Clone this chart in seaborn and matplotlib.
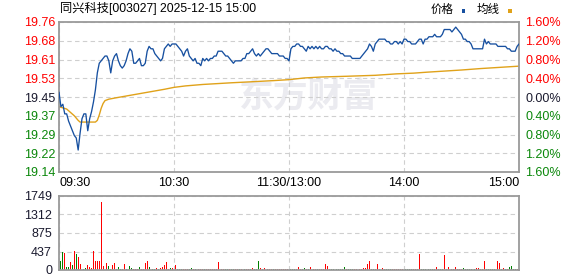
import numpy as np
import pandas as pd
import matplotlib
matplotlib.use("Agg")
import matplotlib.pyplot as plt
from matplotlib.patches import Rectangle
import seaborn as sns

# ---------------- data ----------------
title = "同兴科技[003027] 2025-12-15 15:00"
prev_close = 19.45

price = [
    19.47, 19.41, 19.42, 19.38, 19.38, 19.35, 19.33, 19.31, 19.29, 19.28,
    19.23, 19.30, 19.36, 19.38, 19.38, 19.31, 19.36, 19.39, 19.43, 19.48,
    19.55, 19.59, 19.60, 19.61, 19.62, 19.62, 19.60, 19.55, 19.60, 19.62,
    19.63, 19.60, 19.58, 19.57, 19.58, 19.60, 19.63, 19.65, 19.64, 19.59,
    19.59, 19.60, 19.61, 19.58, 19.58, 19.59, 19.64, 19.66, 19.65, 19.65,
    19.63, 19.62, 19.61, 19.60, 19.61, 19.65, 19.66, 19.67, 19.66, 19.67,
    19.67, 19.67, 19.66, 19.65, 19.64, 19.62, 19.64, 19.65, 19.62, 19.61,
    19.60, 19.61, 19.59, 19.59, 19.58, 19.61, 19.60, 19.61, 19.60, 19.61,
    19.61, 19.62, 19.62, 19.64, 19.64, 19.64, 19.63, 19.62, 19.62, 19.61,
    19.60, 19.59, 19.60, 19.60, 19.60, 19.60, 19.61, 19.61, 19.63, 19.63,
    19.64, 19.65, 19.63, 19.62, 19.63, 19.62, 19.63, 19.64, 19.65, 19.65,
    19.64, 19.63, 19.63, 19.63, 19.63, 19.62, 19.62, 19.62, 19.61, 19.61,
    19.60, 19.65, 19.66, 19.66, 19.67, 19.67, 19.66, 19.66, 19.65, 19.64,
    19.66, 19.65, 19.66, 19.65, 19.66, 19.65, 19.66, 19.65, 19.65, 19.66,
    19.66, 19.65, 19.65, 19.64, 19.65, 19.64, 19.64, 19.63, 19.63, 19.62,
    19.62, 19.62, 19.62, 19.61, 19.61, 19.61, 19.61, 19.61, 19.62, 19.63,
    19.64, 19.65, 19.67, 19.66, 19.64, 19.67, 19.68, 19.69, 19.69, 19.69,
    19.69, 19.68, 19.68, 19.67, 19.67, 19.68, 19.68, 19.67, 19.68, 19.67,
    19.69, 19.69, 19.68, 19.68, 19.67, 19.67, 19.67, 19.68, 19.69, 19.69,
    19.67, 19.69, 19.69, 19.70, 19.70, 19.70, 19.71, 19.70, 19.70, 19.70,
    19.71, 19.73, 19.73, 19.73, 19.73, 19.72, 19.73, 19.74, 19.73, 19.72,
    19.71, 19.69, 19.69, 19.68, 19.68, 19.67, 19.65, 19.65, 19.65, 19.65,
    19.65, 19.65, 19.69, 19.67, 19.68, 19.67, 19.67, 19.67, 19.67, 19.66,
    19.66, 19.66, 19.66, 19.66, 19.65, 19.65, 19.64, 19.64, 19.64, 19.66,
    19.67,
]

avg_minute = [0, 2, 4, 6, 8, 10, 11, 19, 20, 21, 22, 23, 24, 26, 30, 35, 40,
              45, 50, 55, 60, 66, 75, 90, 100, 112, 120, 128, 137, 150, 165,
              176, 185, 192, 200, 210, 220, 230, 240]
avg_price = [19.410, 19.405, 19.400, 19.386, 19.372, 19.353, 19.346, 19.346,
             19.353, 19.375, 19.403, 19.423, 19.435, 19.441, 19.447, 19.454,
             19.461, 19.468, 19.475, 19.482, 19.490, 19.496, 19.502, 19.509,
             19.513, 19.518, 19.522, 19.529, 19.533, 19.536, 19.540, 19.546,
             19.549, 19.553, 19.557, 19.562, 19.568, 19.573, 19.578]

volume = [
    764, 221, 426, 402, 71, 71, 189, 118, 449, 378,
    307, 142, 142, 32, 50, 118, 71, 50, 449, 213,
    213, 213, 1608, 95, 496, 165, 95, 24, 118, 165,
    24, 71, 24, 24, 142, 24, 71, 95, 50, 24,
    24, 24, 79, 24, 24, 165, 221, 63, 39, 24,
    24, 39, 24, 39, 79, 118, 197, 24, 55, 39,
    110, 118, 24, 24, 24, 24, 24, 24, 24, 50,
    24, 24, 71, 24, 24, 24, 24, 24, 24, 24,
    24, 24, 24, 189, 24, 24, 24, 24, 24, 24,
    24, 24, 24, 24, 24, 24, 24, 24, 24, 24,
    24, 50, 24, 24, 221, 50, 24, 50, 50, 24,
    24, 24, 24, 24, 24, 24, 24, 24, 24, 24,
    189, 24, 24, 24, 24, 71, 24, 24, 39, 24,
    24, 71, 24, 24, 24, 24, 24, 24, 24, 142,
    95, 24, 24, 24, 24, 24, 24, 24, 24, 71,
    24, 24, 24, 24, 24, 24, 24, 24, 24, 50,
    50, 142, 213, 24, 24, 24, 142, 24, 95, 50,
    24, 24, 24, 24, 24, 24, 24, 24, 24, 24,
    142, 24, 24, 24, 24, 24, 24, 24, 378, 24,
    24, 24, 24, 24, 24, 24, 24, 71, 24, 24,
    24, 355, 24, 71, 24, 24, 24, 71, 24, 24,
    24, 50, 24, 24, 24, 24, 24, 24, 50, 50,
    24, 24, 213, 24, 24, 24, 24, 24, 24, 213,
    165, 24, 50, 24, 24, 71, 95, 24, 24, 24,
    189,
]

direction = (
    "RGGRGGRGRG" "RRRGGRRRRR" "RRRRGRGGRR" "GGGRRGGGGR" "RRGRRRRGGG"
    "GRGRRRRRGR" "RRGGGRRRGG" "RGRRRRGRRR" "RRRRRRRGGR" "GGRRGRRGRR"
    "GRGGGRRRRR" "RRGRRRRRRR" "RGGGRRRGGR" "GRRRRGRRRR" "RRGGGGGGGG"
    "RGGGRRRRRR" "RRRGGRRRRR" "RGGGRRRRRR" "RGGGGRRRRG" "GGGGGGRRRG"
    "GRRRRRRRRR" "RGGGGGGGRR" "RRRGGGGGRR" "RGRGRGGGGR" "R"
)

time_labels = ["09:30", "10:30", "11:30/13:00", "14:00", "15:00"]
price_labels = ["19.14", "19.22", "19.29", "19.37", "19.45",
                "19.53", "19.61", "19.68", "19.76"]
pct_labels = ["1.60%", "1.20%", "0.80%", "0.40%", "0.00%",
              "0.40%", "0.80%", "1.20%", "1.60%"]
vol_ticks = [0, 437, 875, 1312, 1749]
legend_names = ["价格", "均线"]

# ---------------- style ----------------
sns.set_theme(style="white")
plt.rcParams["font.family"] = ["Liberation Sans", "Noto Sans CJK SC", "DejaVu Sans"]

RED = "#ff0000"
GREEN = "#0a870a"
DARK = "#1a1a2e"
BLUE = "#1750a0"
GOLD = "#e0a21a"
GRID = "#cfcfcf"
FRAME = "#9a9a9a"

n = len(price)
minute = np.arange(n)
df = pd.DataFrame({"minute": minute, "price": price,
                   "volume": volume, "dir": list(direction)})

W, H = 578, 276
fig = plt.figure(figsize=(W / 100, H / 100), dpi=100)


def box(l, t, r, b):
    return [l / W, 1 - b / H, (r - l) / W, (b - t) / H]


ax_p = fig.add_axes(box(59, 22, 519, 172))
ax_v = fig.add_axes(box(59, 196, 519, 270))

# ---------------- price panel ----------------
levels = [prev_close * (1 + 0.004 * k) for k in range(-4, 5)]
sns.lineplot(data=df, x="minute", y="price", ax=ax_p, color=BLUE,
             linewidth=0.95, zorder=3)
sns.lineplot(x=avg_minute, y=avg_price, ax=ax_p, color=GOLD,
             linewidth=1.0, zorder=2)
ax_p.set_xlim(0, n - 1)
ax_p.set_ylim(levels[0], levels[-1])
ax_p.set_xlabel("")
ax_p.set_ylabel("")
ax_p.set_yticks(levels)
ax_p.set_yticklabels(price_labels)
xt = [0, 60, 120, 180, 240]
ax_p.set_xticks(xt)
ax_p.set_xticklabels(time_labels)
ax_p.tick_params(axis="both", length=0, labelsize=9)
ax_p.tick_params(axis="y", pad=2.5)
ax_p.tick_params(axis="x", pad=3.5, colors="#000000")
xl = ax_p.get_xticklabels()
xl[0].set_ha("left")
xl[-1].set_ha("right")
for lbl, k in zip(ax_p.get_yticklabels(), range(-4, 5)):
    lbl.set_color(RED if k > 0 else (GREEN if k < 0 else DARK))
ax_p.grid(True, color=GRID, linestyle=(0, (4, 3)), linewidth=0.8)
ax_p.set_axisbelow(True)

ax_r = ax_p.twinx()
ax_r.set_ylim(levels[0], levels[-1])
ax_r.set_yticks(levels)
ax_r.set_yticklabels(pct_labels)
ax_r.tick_params(axis="y", length=0, labelsize=9, pad=4.5)
for lbl, k in zip(ax_r.get_yticklabels(), range(-4, 5)):
    lbl.set_color(RED if k > 0 else (GREEN if k < 0 else DARK))
ax_r.grid(False)
for s in ax_r.spines.values():
    s.set_visible(False)

# watermark
ax_p.text(308 / W, 1 - 96 / H, "东方财富", transform=fig.transFigure,
          fontsize=25, fontweight="bold", color="#ebebf0", ha="center",
          va="center", zorder=0, family=["Noto Sans CJK SC"])

# ---------------- volume panel ----------------
sns.barplot(data=df, x="minute", y="volume", hue="dir",
            palette={"R": RED, "G": "#008000"}, native_scale=True,
            width=0.5, linewidth=0, saturation=1, errorbar=None,
            legend=False, ax=ax_v, zorder=2)
for p in ax_v.patches:
    p.set_antialiased(False)
ax_v.set_xlim(0, n - 1)
ax_v.set_ylim(0, vol_ticks[-1])
ax_v.set_xlabel("")
ax_v.set_ylabel("")
ax_v.set_xticks(xt)
ax_v.set_xticklabels([])
ax_v.set_yticks(vol_ticks)
ax_v.set_yticklabels([str(v) for v in vol_ticks])
ax_v.tick_params(axis="both", length=0, labelsize=9, colors=DARK)
ax_v.tick_params(axis="y", pad=5)
ax_v.grid(True, color=GRID, linestyle=(0, (4, 3)), linewidth=0.8)
ax_v.set_axisbelow(True)

for ax in (ax_p, ax_v):
    for s in ax.spines.values():
        s.set_color(FRAME)
        s.set_linewidth(1.3)
        s.set_visible(True)

# ---------------- title & legend ----------------
fig.text(60 / W, 1 - 8.5 / H, title, fontsize=8.8, color="#000000",
         ha="left", va="center")
fig.text(431 / W, 1 - 9.5 / H, legend_names[0], fontsize=8.3,
         color="#000000", ha="left", va="center")
fig.text(477 / W, 1 - 9.5 / H, legend_names[1], fontsize=8.3,
         color="#000000", ha="left", va="center")
fig.add_artist(Rectangle((461.5 / W, 1 - 12.7 / H), 3.8 / W, 3.4 / H,
                         transform=fig.transFigure, color=BLUE, lw=0))
fig.add_artist(Rectangle((507.7 / W, 1 - 12.7 / H), 3.8 / W, 3.4 / H,
                         transform=fig.transFigure, color=GOLD, lw=0))

fig.savefig("out.png", dpi=100, facecolor="white")
